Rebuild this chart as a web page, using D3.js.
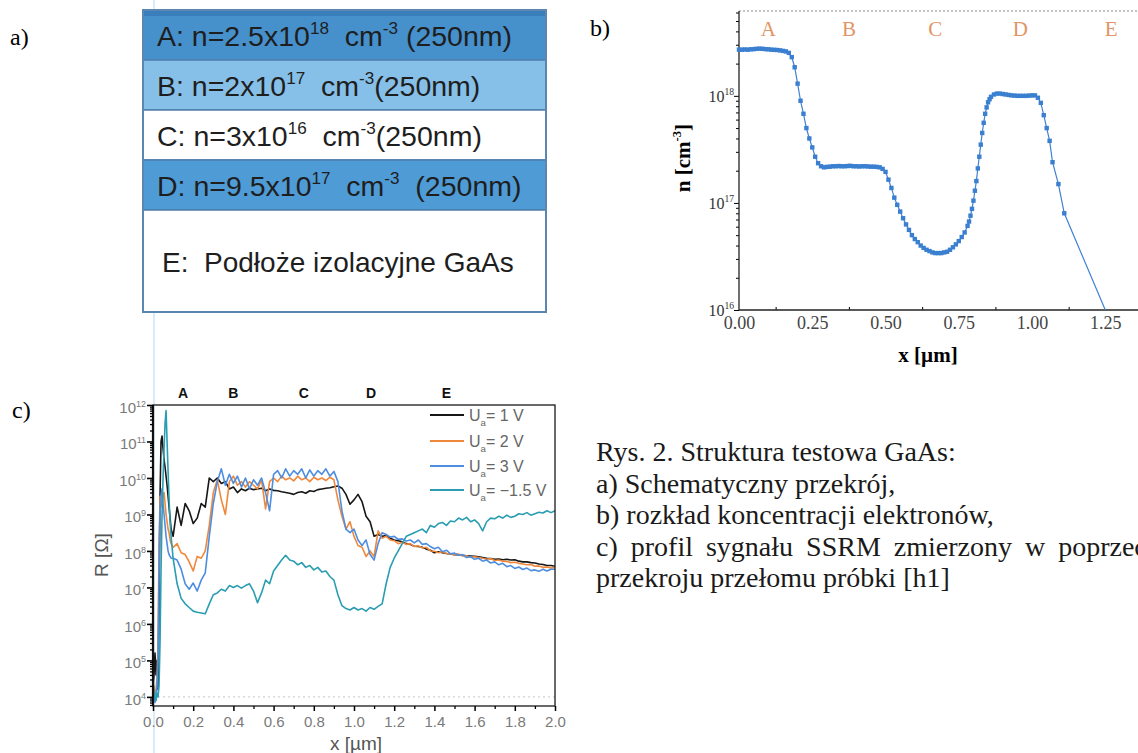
<!DOCTYPE html>
<html lang="pl">
<head>
<meta charset="utf-8">
<title>Rys. 2. Struktura testowa GaAs</title>
<script src="https://d3js.org/d3.v7.min.js" charset="utf-8"></script>
<style>
  body { margin: 0; background: #fff; }
  svg { display: block; }
</style>
</head>
<body>
<script>
// ---- a) layer stack ----
var layerNames = ["A", "B", "C", "D", "E"];
var layerTexts = [
  [["A: n=2.5x10", ""], ["18", "sup"], ["  cm", ""], ["-3", "sup"], [" (250nm)", ""]],
  [["B: n=2x10", ""], ["17", "sup"], ["  cm", ""], ["-3", "sup"], ["(250nm)", ""]],
  [["C: n=3x10", ""], ["16", "sup"], ["  cm", ""], ["-3", "sup"], ["(250nm)", ""]],
  [["D: n=9.5x10", ""], ["17", "sup"], ["  cm", ""], ["-3", "sup"], ["  (250nm)", ""]],
  [["E:  Podłoże izolacyjne GaAs", ""]]
];

// ---- b) electron concentration, x [um], n [1e17 cm^-3] ----
var concPoints = [
  [0.00,27],[0.01,27],[0.02,27.1],[0.03,27],[0.04,27.2],[0.05,27.3],[0.06,27.5],[0.07,27.6],[0.08,27.5],[0.09,27.3],
  [0.10,27.2],[0.11,27],[0.12,26.9],[0.13,26.8],[0.14,26.6],[0.15,26.3],[0.16,26],[0.17,25.2],[0.18,23],[0.19,18.5],
  [0.20,13],[0.21,9],[0.22,6.8],[0.23,5],[0.24,4],[0.25,3.3],[0.26,2.7],[0.27,2.35],[0.28,2.2],[0.29,2.15],
  [0.30,2.17],[0.31,2.18],[0.32,2.2],[0.33,2.2],[0.34,2.21],[0.35,2.2],[0.36,2.2],[0.37,2.21],[0.38,2.22],[0.39,2.2],
  [0.40,2.2],[0.41,2.19],[0.42,2.2],[0.43,2.2],[0.44,2.19],[0.45,2.18],[0.46,2.18],[0.47,2.17],[0.48,2.15],[0.49,2.08],
  [0.50,1.95],[0.51,1.65],[0.52,1.38],[0.53,1.12],[0.54,0.96],[0.55,0.83],[0.56,0.72],[0.57,0.63],[0.58,0.56],[0.59,0.5],
  [0.60,0.46],[0.61,0.43],[0.62,0.4],[0.63,0.38],[0.64,0.365],[0.65,0.355],[0.66,0.345],[0.67,0.34],[0.68,0.34],[0.69,0.34],
  [0.70,0.345],[0.71,0.35],[0.72,0.365],[0.73,0.385],[0.74,0.41],[0.75,0.44],[0.76,0.48],[0.77,0.53],[0.78,0.61],[0.785,0.67],
  [0.79,0.76],[0.795,0.88],[0.80,1.05],[0.805,1.3],[0.81,1.6],[0.815,2.1],[0.82,2.7],[0.825,3.5],[0.83,4.5],[0.835,5.6],
  [0.84,6.8],[0.845,7.8],[0.85,8.7],[0.855,9.3],[0.86,9.8],[0.87,10.3],[0.88,10.5],[0.89,10.5],[0.90,10.4],[0.91,10.3],
  [0.92,10.2],[0.93,10.1],[0.94,10.05],[0.95,10],[0.96,10],[0.97,10],[0.98,10],[0.99,10.05],[1.00,10.1],[1.01,10.1],
  [1.02,9.6],[1.03,8.6],[1.04,6.6],[1.05,5.0],[1.06,3.8],[1.07,2.4],[1.09,1.5],[1.11,0.8]
];
var concTail = [[1.11,0.8],[1.25,0.1]];
var concXTicks = [0, 0.25, 0.5, 0.75, 1.0, 1.25];
var concRegionX = [0.10, 0.375, 0.67, 0.96, 1.27];

// ---- c) SSRM resistance, log10(R [Ohm]) ----
var xStart = [0, 0.005, 0.01, 0.015, 0.02, 0.025, 0.03, 0.035, 0.04, 0.045, 0.05, 0.055, 0.06, 0.065, 0.07, 0.075, 0.08, 0.085, 0.09];
var xSSRM = xStart.concat(d3.range(5, 101).map(function (i) { return i / 50; }));

var logR1 = [4.3,4.6,5.2,4.6,5.0,4.2,6.5,9.5,11.0,11.15,10.8,10.5,10.3,10.05,9.8,9.5,9.2,8.9,8.6,
  8.4,9.2,8.7,9.3,9.1,8.75,8.9,9.3,9.2,10.0,
  9.9,10.0,9.85,9.9,9.7,9.75,9.6,9.7,9.65,9.72,
  9.68,9.7,9.72,9.65,9.7,9.66,9.65,9.62,9.6,9.58,
  9.55,9.6,9.62,9.58,9.65,9.63,9.68,9.7,9.72,9.73,
  9.76,9.78,9.72,9.55,9.28,9.4,9.55,9.35,8.95,8.8,
  8.4,8.45,8.4,8.42,8.35,8.3,8.28,8.25,8.2,8.18,
  8.13,8.12,8.1,8.05,8.02,7.95,7.98,7.95,7.93,7.92,
  7.9,7.9,7.88,7.87,7.86,7.85,7.84,7.82,7.8,7.79,
  7.77,7.78,7.76,7.77,7.75,7.76,7.72,7.7,7.7,7.68,
  7.67,7.64,7.63,7.6,7.6,7.58];
var logR2 = [4.0,4.3,3.95,4.2,4.5,5.5,8.0,9.5,9.4,9.2,9.5,9.6,9.3,9.0,8.8,8.6,8.5,8.3,8.2,
  8.1,8.2,7.95,7.9,7.7,7.45,7.85,7.8,8.0,8.7,
  9.6,9.95,9.4,9.0,9.9,10.05,9.8,9.9,9.75,9.9,
  9.8,9.7,9.95,9.15,9.9,10.0,9.9,10.05,9.95,10.0,
  9.92,10.05,9.95,10.0,9.9,10.02,9.95,10.0,9.93,10.02,
  9.95,9.4,8.95,8.6,8.8,8.4,8.15,8.1,7.85,8.0,
  7.85,8.55,8.35,8.4,8.3,8.28,8.2,8.24,8.18,8.2,
  8.12,8.14,8.08,8.1,8.0,7.99,7.95,7.98,7.93,7.92,
  7.9,7.91,7.86,7.87,7.83,7.84,7.82,7.8,7.77,7.79,
  7.74,7.75,7.72,7.71,7.68,7.69,7.66,7.64,7.62,7.63,
  7.58,7.59,7.55,7.56,7.53,7.55];
var logR3 = [3.9,4.1,3.85,4.0,4.3,5.0,7.5,9.2,9.5,9.7,9.3,9.0,8.7,8.4,8.2,8.0,7.9,7.85,7.8,
  7.8,7.75,7.5,7.1,6.95,7.12,6.9,7.2,7.4,8.4,
  9.3,9.9,10.25,9.8,10.1,9.85,10.05,9.75,10.0,9.7,
  9.95,9.8,10.0,9.6,9.1,10.1,10.2,10.0,10.25,10.05,
  10.2,10.1,10.25,10.0,10.22,10.05,10.2,10.1,10.25,10.05,
  10.18,9.9,9.1,8.6,8.5,8.6,8.3,8.15,8.3,7.9,
  7.75,8.2,8.5,8.45,8.38,8.4,8.32,8.33,8.27,8.3,
  8.22,8.3,8.18,8.2,8.12,8.06,8.1,7.98,8.02,7.92,
  7.94,7.88,7.9,7.82,7.84,7.77,7.8,7.72,7.75,7.67,
  7.7,7.62,7.66,7.57,7.6,7.52,7.56,7.49,7.53,7.46,
  7.48,7.44,7.5,7.45,7.5,7.5];
var logRm15 = [4.5,4.2,4.0,3.9,4.1,4.0,4.3,5.5,7.5,9.0,10.0,10.8,11.5,11.85,11.0,10.2,9.4,8.8,8.4,
  7.8,7.1,6.7,6.55,6.45,6.35,6.32,6.3,6.28,6.55,
  6.8,6.85,6.95,6.9,7.05,7.0,7.05,6.98,7.05,7.1,
  6.9,6.58,6.85,7.2,7.1,7.45,7.6,7.75,7.88,7.75,
  7.72,7.62,7.68,7.55,7.6,7.48,7.55,7.42,7.45,7.3,
  7.2,6.8,6.5,6.42,6.38,6.45,6.38,6.42,6.35,6.45,
  6.4,6.48,6.55,7.1,7.55,7.8,8.0,8.2,8.4,8.45,
  8.5,8.55,8.6,8.5,8.7,8.65,8.75,8.78,8.7,8.82,
  8.8,8.9,8.85,8.92,8.8,8.85,8.75,8.55,8.8,8.9,
  8.88,8.95,8.9,8.98,8.92,8.95,9.02,9.0,9.05,8.98,
  9.02,9.06,9.04,9.1,9.05,9.1];
var seriesNames = ["1 V", "2 V", "3 V", "\u22121.5 V"];
var seriesColors = ["#161616", "#f0883c", "#4d8ee0", "#2a9db2"];
var seriesValues = [logR1, logR2, logR3, logRm15];
var ssrmRegionX = [0.15, 0.40, 0.75, 1.085, 1.46];

var caption = [
  "Rys. 2. Struktura testowa GaAs:",
  "a) Schematyczny przekrój,",
  "b) rozkład koncentracji elektronów,",
  "c) profil sygnału SSRM zmierzony w poprzecznym",
  "przekroju przełomu próbki [h1]"
];

var svg = d3.select("body").append("svg")
  .attr("width", 1138).attr("height", 753);

var serif = "'Liberation Serif', 'Times New Roman', serif";
var sans = "'Liberation Sans', Arial, sans-serif";

// text with superscripts / subscripts as tspans
function rich(sel, parts, size) {
  var shift = 0;
  parts.forEach(function (p) {
    var t = sel.append("tspan").text(p[0]);
    var target = p[1] === "sup" ? -0.42 * size : (p[1] === "sub" ? 0.32 * size : 0);
    if (target !== shift) t.attr("dy", target - shift);
    if (p[1]) t.attr("font-size", size * 0.6);
    shift = target;
  });
  return sel;
}

// page fold artefact
svg.append("line").attr("x1", 154).attr("x2", 154).attr("y1", 0).attr("y2", 753)
  .attr("stroke", "#d8ebf7").attr("stroke-width", 2);

// ---------- a) ----------
svg.append("text").attr("x", 10).attr("y", 45).attr("font-family", serif)
  .attr("font-size", 24).text("a)");

var rowEdges = [10, 60, 110, 160, 210, 312];
var rowFills = ["#4690cc", "#86c0e8", "#ffffff", "#4e9bd6", "#ffffff"];
var boxX = 143, boxW = 403;
layerNames.forEach(function (name, i) {
  svg.append("rect").attr("x", boxX).attr("y", rowEdges[i])
    .attr("width", boxW).attr("height", rowEdges[i + 1] - rowEdges[i])
    .attr("fill", rowFills[i]).attr("stroke", "#4f7fae").attr("stroke-width", 1.5);
  if (i === 0) {
    svg.append("rect").attr("x", boxX).attr("y", rowEdges[0]).attr("width", boxW).attr("height", 6)
      .attr("fill", "#3a7fbb");
  }
  var fs = i === 4 ? 28 : 28.5;
  var t = svg.append("text")
    .attr("x", i === 4 ? 162 : 157)
    .attr("y", i === 4 ? 272 : rowEdges[i] + 36)
    .attr("font-family", sans).attr("font-size", fs).attr("fill", "#1e1e1e")
    .style("white-space", "pre");
  rich(t, layerTexts[i], fs);
});
svg.append("rect").attr("x", boxX).attr("y", rowEdges[0]).attr("width", boxW)
  .attr("height", rowEdges[5] - rowEdges[0]).attr("fill", "none")
  .attr("stroke", "#5a86b0").attr("stroke-width", 2);

// ---------- b) ----------
svg.append("text").attr("x", 590).attr("y", 36).attr("font-family", serif)
  .attr("font-size", 24).text("b)");

var xB = d3.scaleLinear().domain([0, 1.365]).range([739, 1139]);
var yB = d3.scaleLog().domain([1e16, 6.2e18]).range([310, 11]);
var gB = svg.append("g");

gB.append("line").attr("x1", 739).attr("x2", 1138).attr("y1", 11).attr("y2", 11)
  .attr("stroke", "#8a8a8a").attr("stroke-dasharray", "2,2");

var bMinor = [];
[16, 17, 18].forEach(function (e) {
  d3.range(2, 10).forEach(function (k) { if (k * Math.pow(10, e) < 6.2e18) bMinor.push(k * Math.pow(10, e)); });
});
gB.append("g").attr("transform", "translate(739,0)")
  .call(d3.axisLeft(yB).tickValues(bMinor).tickSize(3).tickFormat(""))
  .call(function (g) { g.select(".domain").remove(); });
gB.append("g").attr("transform", "translate(739,0)")
  .call(d3.axisLeft(yB).tickValues([1e16, 1e17, 1e18]).tickSize(5).tickFormat(""))
  .call(function (g) { g.select(".domain").remove(); });
gB.append("line").attr("x1", 739).attr("x2", 739).attr("y1", 11).attr("y2", 310)
  .attr("stroke", "#222").attr("stroke-width", 1.3);
[16, 17, 18].forEach(function (e) {
  var t = gB.append("text").attr("x", 734).attr("y", yB(Math.pow(10, e)) + 6)
    .attr("text-anchor", "end").attr("font-family", serif).attr("font-size", 16).attr("fill", "#333");
  rich(t, [["10", ""], [String(e), "sup"]], 16);
});

var minorX = concXTicks.map(function (v) { return v + 0.125; });
gB.append("g").attr("transform", "translate(0,310)")
  .call(d3.axisTop(xB).tickValues(minorX).tickSize(3).tickFormat(""))
  .call(function (g) { g.select(".domain").remove(); });
gB.append("g").attr("transform", "translate(0,310)")
  .call(d3.axisBottom(xB).tickValues(concXTicks).tickSize(0).tickPadding(6).tickFormat(d3.format(".2f")))
  .call(function (g) {
    g.select(".domain").remove();
    g.selectAll("text").attr("font-family", serif).attr("font-size", 18).attr("fill", "#444");
  });
gB.append("line").attr("x1", 739).attr("x2", 1138).attr("y1", 310).attr("y2", 310)
  .attr("stroke", "#222").attr("stroke-width", 1.3);

gB.append("text").attr("x", 928).attr("y", 362).attr("text-anchor", "middle")
  .attr("font-family", serif).attr("font-weight", "bold").attr("font-size", 21).text("x [µm]");
var yt = gB.append("text").attr("transform", "translate(690,158) rotate(-90)")
  .attr("text-anchor", "middle").attr("font-family", serif).attr("font-weight", "bold").attr("font-size", 21);
rich(yt, [["n [cm", ""], ["-3", "sup"], ["]", ""]], 21);

layerNames.forEach(function (name, i) {
  gB.append("text").attr("x", xB(concRegionX[i])).attr("y", 36).attr("text-anchor", "middle")
    .attr("font-family", serif).attr("font-size", 21).attr("fill", "#e39466").text(name);
});

var lineB = d3.line().x(function (d) { return xB(d[0]); }).y(function (d) { return yB(d[1] * 1e17); });
gB.append("path").datum(concPoints.concat(concTail.slice(1))).attr("d", lineB)
  .attr("fill", "none").attr("stroke", "#3f82d2").attr("stroke-width", 1.2);
gB.selectAll("rect.pt").data(concPoints).enter().append("rect").attr("class", "pt")
  .attr("x", function (d) { return xB(d[0]) - 2.2; })
  .attr("y", function (d) { return yB(d[1] * 1e17) - 2.2; })
  .attr("width", 4.4).attr("height", 4.4).attr("fill", "#3a7fd0");

// ---------- c) ----------
svg.append("text").attr("x", 12).attr("y", 418).attr("font-family", serif)
  .attr("font-size", 24).text("c)");

var xC = d3.scaleLinear().domain([0, 2]).range([153, 555]);
var yC = d3.scaleLog().domain([Math.pow(10, 3.75), 1e12]).range([706, 405]);
var gC = svg.append("g");

gC.append("clipPath").attr("id", "clipC").append("rect")
  .attr("x", 153).attr("y", 405).attr("width", 402).attr("height", 301);

gC.append("line").attr("x1", 153).attr("x2", 555).attr("y1", yC(1e4)).attr("y2", yC(1e4))
  .attr("stroke", "#c8c8c8").attr("stroke-dasharray", "2,3");

var lineC = d3.line().x(function (d) { return xC(d[0]); }).y(function (d) { return yC(Math.pow(10, d[1])); });
seriesValues.forEach(function (vals, i) {
  gC.append("path").datum(xSSRM.map(function (x, j) { return [x, vals[j]]; }))
    .attr("d", lineC).attr("clip-path", "url(#clipC)")
    .attr("fill", "none").attr("stroke", seriesColors[i]).attr("stroke-width", 1.6)
    .attr("stroke-linejoin", "round");
});

gC.append("rect").attr("x", 153).attr("y", 405).attr("width", 402).attr("height", 301)
  .attr("fill", "none").attr("stroke", "#1a1a1a").attr("stroke-width", 1.3);
gC.append("line").attr("x1", 153).attr("x2", 153).attr("y1", 405).attr("y2", 706)
  .attr("stroke", "#111").attr("stroke-width", 2.2);

var cMinor = [];
d3.range(3, 12).forEach(function (e) {
  d3.range(2, 10).forEach(function (k) {
    var v = k * Math.pow(10, e);
    if (v > Math.pow(10, 3.75) && v < 1e12) cMinor.push(v);
  });
});
var cMajor = d3.range(4, 13).map(function (e) { return Math.pow(10, e); });
gC.append("g").attr("transform", "translate(153,0)")
  .call(d3.axisLeft(yC).tickValues(cMinor).tickSize(3).tickFormat(""))
  .call(function (g) { g.select(".domain").remove(); g.selectAll("line").attr("stroke-width", 1.3); });
gC.append("g").attr("transform", "translate(153,0)")
  .call(d3.axisLeft(yC).tickValues(cMajor).tickSize(6).tickFormat(""))
  .call(function (g) { g.select(".domain").remove(); g.selectAll("line").attr("stroke-width", 1.6); });
d3.range(4, 13).forEach(function (e) {
  var t = gC.append("text").attr("x", 146).attr("y", yC(Math.pow(10, e)) + 8)
    .attr("text-anchor", "end").attr("font-family", sans).attr("font-size", 15).attr("fill", "#7a7a7a");
  rich(t, [["10", ""], [String(e), "sup"]], 15);
});

gC.append("g").attr("transform", "translate(0,706)")
  .call(d3.axisBottom(xC).tickValues(d3.range(1, 20, 2).map(function (i) { return i / 10; })).tickSize(3).tickFormat(""))
  .call(function (g) { g.select(".domain").remove(); g.selectAll("line").attr("stroke-width", 1.3); });
gC.append("g").attr("transform", "translate(0,706)")
  .call(d3.axisBottom(xC).tickValues(d3.range(0, 11).map(function (i) { return i / 5; }))
    .tickSize(5).tickPadding(5).tickFormat(d3.format(".1f")))
  .call(function (g) {
    g.select(".domain").remove();
    g.selectAll("line").attr("stroke-width", 1.5);
    g.selectAll("text").attr("font-family", sans).attr("font-size", 15).attr("fill", "#7a7a7a");
  });

gC.append("text").attr("x", 356).attr("y", 750).attr("text-anchor", "middle")
  .attr("font-family", sans).attr("font-size", 19).attr("fill", "#555").text("x [µm]");
gC.append("text").attr("transform", "translate(108,555) rotate(-90)").attr("text-anchor", "middle")
  .attr("font-family", sans).attr("font-size", 19).attr("fill", "#555").text("R [Ω]");

layerNames.forEach(function (name, i) {
  gC.append("text").attr("x", xC(ssrmRegionX[i])).attr("y", 398).attr("text-anchor", "middle")
    .attr("font-family", sans).attr("font-weight", "bold").attr("font-size", 14).attr("fill", "#111").text(name);
});

var legendY = [415, 441, 466, 490];
seriesNames.forEach(function (name, i) {
  gC.append("line").attr("x1", 430).attr("x2", 464).attr("y1", legendY[i]).attr("y2", legendY[i])
    .attr("stroke", seriesColors[i]).attr("stroke-width", 2.2);
  var t = gC.append("text").attr("x", 469).attr("y", legendY[i] + 6)
    .attr("font-family", sans).attr("font-size", 16).attr("fill", "#666");
  rich(t, [["U", ""], ["a", "sub"], ["= " + name, ""]], 16);
});

// ---------- caption ----------
caption.forEach(function (line, i) {
  var t = svg.append("text").attr("x", 596).attr("y", 461 + i * 31.5)
    .attr("font-family", serif).attr("font-size", 28).attr("fill", "#1a1a1a").text(line);
  if (i === 3) t.attr("word-spacing", 6);
});
</script>
</body>
</html>
